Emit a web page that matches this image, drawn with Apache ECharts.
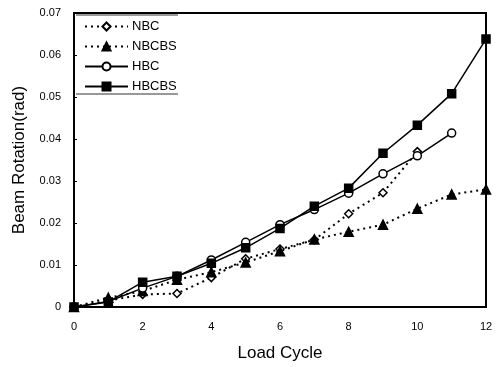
<!DOCTYPE html>
<html><head><meta charset="utf-8">
<script src="https://cdn.jsdelivr.net/npm/echarts@6/dist/echarts.min.js"></script>
<style>html,body{margin:0;padding:0;background:#fff}#c{width:497px;height:367px}</style>
</head><body><div id="c"></div>
<script>
var cycles = [0,1,2,3,4,5,6,7,8,9,10,11,12];
var NBC = [0, 0.0015, 0.0030, 0.0032, 0.0070, 0.0115, 0.0138, 0.0160, 0.0222, 0.0272, 0.0370];
var NBCBS = [0, 0.0022, 0.0038, 0.0065, 0.0083, 0.0106, 0.0133, 0.0161, 0.0179, 0.0196, 0.0234, 0.0268, 0.0280];
var HBC = [0, 0.0013, 0.0045, 0.0073, 0.0112, 0.0154, 0.0196, 0.0232, 0.0271, 0.0317, 0.0360, 0.0414];
var HBCBS = [0, 0.0012, 0.0059, 0.0073, 0.0104, 0.0141, 0.0187, 0.0240, 0.0283, 0.0366, 0.0433, 0.0508, 0.0638];

function pairs(arr){ return arr.map(function(v,i){ return [cycles[i], v]; }); }

var font = 'Liberation Sans, Arial, sans-serif';
var chart = echarts.init(document.getElementById('c'), null, {renderer:'canvas'});
function mk(name, data, symbol, filled, dotted){
  return {
    name: name, type: 'line', data: pairs(data), symbol: symbol,
    symbolSize: symbol==='triangle' ? 9 : 8,
    showAllSymbol: true,
    lineStyle: {color:'#000', width: dotted ? 2 : 1.5, type: dotted ? [2,4] : 'solid'},
    itemStyle: {color: filled ? '#000' : '#fff', borderColor:'#000', borderWidth:1.5},
    emphasis: {disabled:true}, animation:false
  };
}
chart.setOption({
  animation:false,
  backgroundColor:'#fff',
  grid:{left:74, right:11, top:13, bottom:58, show:true, borderColor:'#000', borderWidth:2},
  legend:{
    orient:'vertical', left:79, top:15, itemWidth:43, itemHeight:10, itemGap:7,
    textStyle:{fontFamily:font, fontSize:13, color:'#000', padding:[0,0,0,-1]},
    data:['NBC','NBCBS','HBC','HBCBS']
  },
  graphic:[
    {type:'line', shape:{x1:76,y1:15,x2:178,y2:15}, style:{stroke:'#333', lineWidth:1}},
    {type:'line', shape:{x1:76,y1:94,x2:178,y2:94}, style:{stroke:'#333', lineWidth:1}}
  ],
  xAxis:{
    type:'value', min:0, max:12, interval:2,
    name:'Load Cycle', nameLocation:'middle', nameGap:38,
    nameTextStyle:{fontFamily:font, fontSize:17, color:'#000'},
    axisLine:{show:true, lineStyle:{color:'#000', width:2}},
    axisTick:{show:false},
    axisLabel:{fontFamily:font, fontSize:11, color:'#000', margin:14},
    splitLine:{show:false}
  },
  yAxis:{
    type:'value', min:0, max:0.07, interval:0.01,
    name:'Beam Rotation(rad)', nameLocation:'middle', nameGap:46,
    nameTextStyle:{fontFamily:font, fontSize:17, color:'#000'},
    axisLine:{show:true, lineStyle:{color:'#000', width:2}},
    axisTick:{show:true, inside:true, length:3, lineStyle:{color:'#000'}},
    axisLabel:{fontFamily:font, fontSize:11, color:'#000', margin:13,
      formatter:function(v){ return v===0 ? '0' : v.toFixed(2); }},
    splitLine:{show:false}
  },
  series:[
    mk('NBC', NBC, 'diamond', false, true),
    mk('NBCBS', NBCBS, 'triangle', true, true),
    mk('HBC', HBC, 'circle', false, false),
    mk('HBCBS', HBCBS, 'rect', true, false)
  ]
});
</script></body></html>
